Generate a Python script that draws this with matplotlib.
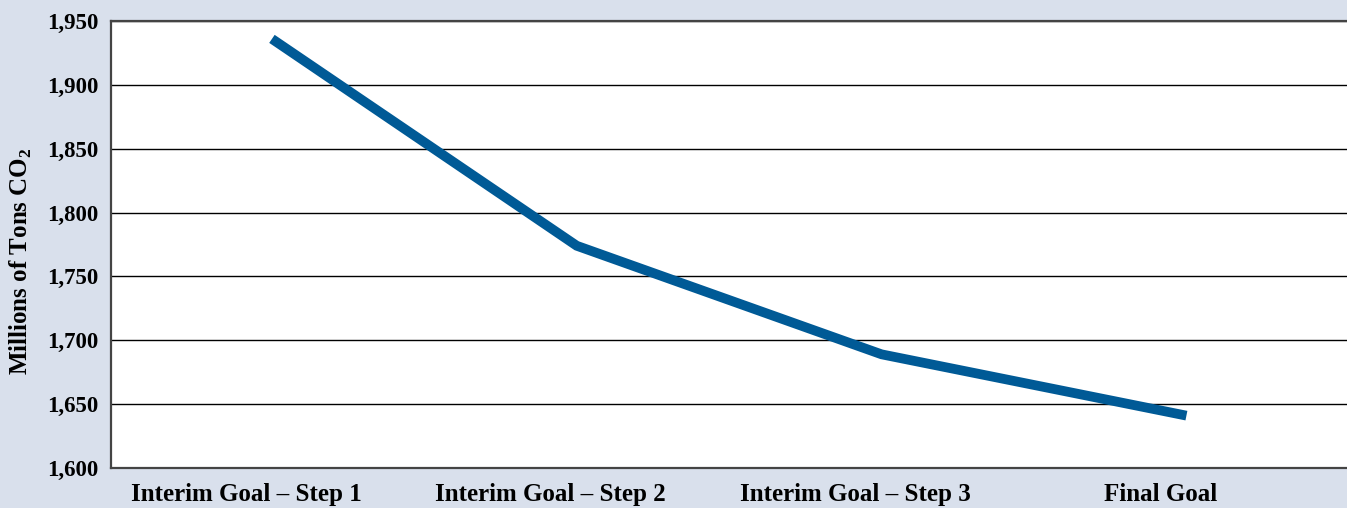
import matplotlib
matplotlib.use("Agg")
import matplotlib.pyplot as plt
import numpy as np

categories = ["Interim Goal – Step 1", "Interim Goal – Step 2", "Interim Goal – Step 3", "Final Goal"]
emissions = [1936, 1774, 1689, 1641]
y_ticks = [1600, 1650, 1700, 1750, 1800, 1850, 1900, 1950]
y_tick_labels = ["1,600", "1,650", "1,700", "1,750", "1,800", "1,850", "1,900", "1,950"]

plt.rcParams['font.family'] = ['Liberation Serif', 'DejaVu Serif']
plt.rcParams['mathtext.fontset'] = 'custom'
plt.rcParams['mathtext.rm'] = 'Liberation Serif:bold'
plt.rcParams['mathtext.bf'] = 'Liberation Serif:bold'

bg = '#D9E0EC'
fig = plt.figure(figsize=(13.47, 5.08), dpi=100, facecolor=bg)
ax = fig.add_axes([111/1347, 40/508, 1 - 111/1347 + 0.01, 447/508])
ax.set_facecolor('white')

xs = np.arange(len(categories))
ax.plot(xs, emissions, color='#005A96', linewidth=7, solid_capstyle='butt',
        solid_joinstyle='miter', zorder=3)

ax.set_ylim(1600, 1950)
ax.set_xlim(-0.528, 3.571)
ax.set_yticks(y_ticks)
ax.set_yticklabels(y_tick_labels, fontsize=16.5, fontweight='bold')
ax.set_xticks(xs - 0.085)
ax.set_xticklabels(categories, fontsize=18, fontweight='bold')
ax.tick_params(axis='both', length=0)
ax.tick_params(axis='y', pad=9)
ax.tick_params(axis='x', pad=11)
ax.grid(axis='y', color='black', linewidth=1.0, zorder=1)
ax.set_axisbelow(True)
for s in ['left', 'bottom', 'top']:
    ax.spines[s].set_color('#444444')
    ax.spines[s].set_linewidth(1.6)
ax.spines['right'].set_visible(False)

ax.set_ylabel(r'Millions of Tons CO$_{2}$', fontsize=18, fontweight='bold')
ax.yaxis.set_label_coords(-0.062, 0.462)

fig.savefig('out.png', dpi=100, facecolor=bg)
